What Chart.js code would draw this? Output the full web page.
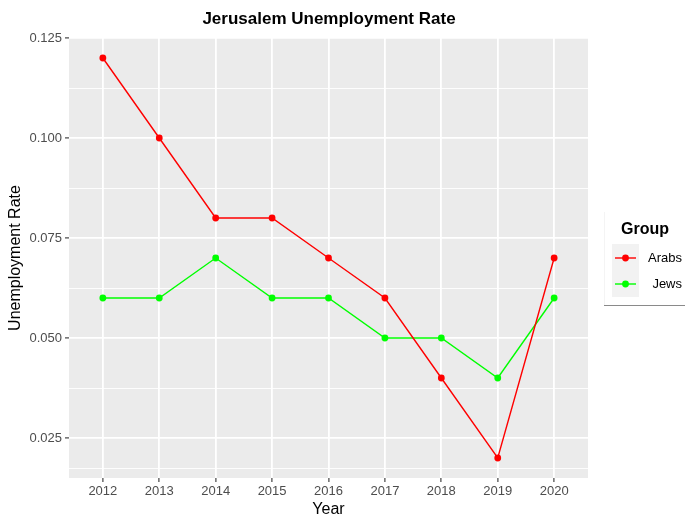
<!DOCTYPE html>
<html>
<head>
<meta charset="utf-8">
<script src="https://cdn.jsdelivr.net/npm/chart.js@4"></script>
<style>
  html, body { margin: 0; padding: 0; background: #fff; }
  #wrap { width: 685px; height: 516px; }
</style>
</head>
<body>
<div id="wrap"><canvas id="chart" width="685" height="516"></canvas></div>
<script>
const years = [2012, 2013, 2014, 2015, 2016, 2017, 2018, 2019, 2020];
const arabs = [0.12, 0.10, 0.08, 0.08, 0.07, 0.06, 0.04, 0.02, 0.07];
const jews = [0.06, 0.06, 0.07, 0.06, 0.06, 0.05, 0.05, 0.04, 0.06];
const groups = ['Arabs', 'Jews'];
const groupColors = ['#ff0000', '#00ff00'];
const yMajor = [0.025, 0.050, 0.075, 0.100, 0.125];

const FONT = '"Liberation Sans", Arial, Helvetica, sans-serif';

function isMajor(v) {
  return yMajor.some(m => Math.abs(m - v) < 1e-6);
}

// grey panel, title and legend like ggplot
const ggPlugin = {
  id: 'gg',
  beforeDraw(chart) {
    const { ctx, chartArea: a } = chart;
    ctx.save();
    ctx.fillStyle = '#ebebeb';
    ctx.fillRect(a.left, a.top, a.right - a.left, a.bottom - a.top);
    ctx.restore();
  },
  afterDraw(chart) {
    const { ctx } = chart;
    ctx.save();
    ctx.fillStyle = '#000';
    ctx.font = 'bold 17px ' + FONT;
    ctx.textAlign = 'center';
    ctx.textBaseline = 'middle';
    ctx.fillText('Jerusalem Unemployment Rate', 329, 19);

    // legend box
    ctx.strokeStyle = '#f4f4f4';
    ctx.lineWidth = 1;
    ctx.beginPath();
    ctx.moveTo(604.5, 212);
    ctx.lineTo(604.5, 305);
    ctx.stroke();
    ctx.strokeStyle = '#8a8a8a';
    ctx.beginPath();
    ctx.moveTo(604, 305.5);
    ctx.lineTo(685, 305.5);
    ctx.stroke();

    ctx.fillStyle = '#000';
    ctx.font = 'bold 16px ' + FONT;
    ctx.fillText('Group', 645, 230);

    ctx.fillStyle = '#f2f2f2';
    ctx.fillRect(612, 244, 27, 53);

    ctx.font = '13px ' + FONT;
    ctx.textAlign = 'right';
    groups.forEach((g, i) => {
      const y = 258 + i * 26;
      ctx.strokeStyle = groupColors[i];
      ctx.lineWidth = 1.4;
      ctx.beginPath();
      ctx.moveTo(615, y);
      ctx.lineTo(636, y);
      ctx.stroke();
      ctx.fillStyle = groupColors[i];
      ctx.beginPath();
      ctx.arc(625.5, y, 3.4, 0, Math.PI * 2);
      ctx.fill();
      ctx.fillStyle = '#000';
      ctx.fillText(g, 682, y);
    });
    ctx.restore();
  }
};

const series = [arabs, jews];
new Chart(document.getElementById('chart'), {
  type: 'line',
  data: {
    datasets: groups.map((g, i) => ({
      label: g,
      data: years.map((yr, j) => ({ x: yr, y: series[i][j] })),
      borderColor: groupColors[i],
      backgroundColor: groupColors[i],
      borderWidth: 1.4,
      pointRadius: 3.4,
      pointHoverRadius: 3.4,
      pointBorderWidth: 0,
      tension: 0
    }))
  },
  options: {
    responsive: false,
    animation: false,
    layout: { padding: { top: 38, right: 97, left: 0, bottom: 0 } },
    plugins: {
      legend: { display: false },
      tooltip: { enabled: false },
      title: { display: false }
    },
    scales: {
      x: {
        type: 'linear',
        min: 2011.4,
        max: 2020.6,
        afterBuildTicks(scale) {
          scale.ticks = years.map(v => ({ value: v }));
        },
        afterFit(scale) { scale.height = 38; },
        border: { display: false },
        grid: {
          color: '#ffffff',
          lineWidth: 1.8,
          tickColor: '#333333',
          tickLength: 4,
          tickWidth: 1.1
        },
        ticks: {
          color: '#4d4d4d',
          font: { family: FONT, size: 13 },
          padding: 2,
          maxRotation: 0,
          callback: v => String(v)
        },
        title: {
          display: true,
          text: 'Year',
          color: '#000',
          font: { family: FONT, size: 16 },
          padding: { top: 0, bottom: -3 }
        }
      },
      y: {
        min: 0.015,
        max: 0.125,
        afterBuildTicks(scale) {
          const t = [{ value: 0.0175 }];
          for (let k = 0; k < 9; k++) t.push({ value: +(0.0125 * k + 0.025).toFixed(4) });
          scale.ticks = t.filter(o => o.value <= 0.125 && o.value >= 0.015);
        },
        afterFit(scale) { scale.width = 69; },
        border: { display: false },
        grid: {
          color: '#ffffff',
          lineWidth: c => isMajor(c.tick.value) ? 1.8 : 0.9,
          tickColor: c => isMajor(c.tick.value) ? '#333333' : 'rgba(0,0,0,0)',
          tickLength: 4,
          tickWidth: 1.1
        },
        ticks: {
          color: '#4d4d4d',
          font: { family: FONT, size: 13 },
          padding: 3,
          callback: v => isMajor(v) ? v.toFixed(3) : ''
        },
        title: {
          display: true,
          text: 'Unemployment Rate',
          color: '#000',
          font: { family: FONT, size: 16 },
          padding: { top: 6, bottom: 0 }
        }
      }
    }
  },
  plugins: [ggPlugin]
});
</script>
</body>
</html>
